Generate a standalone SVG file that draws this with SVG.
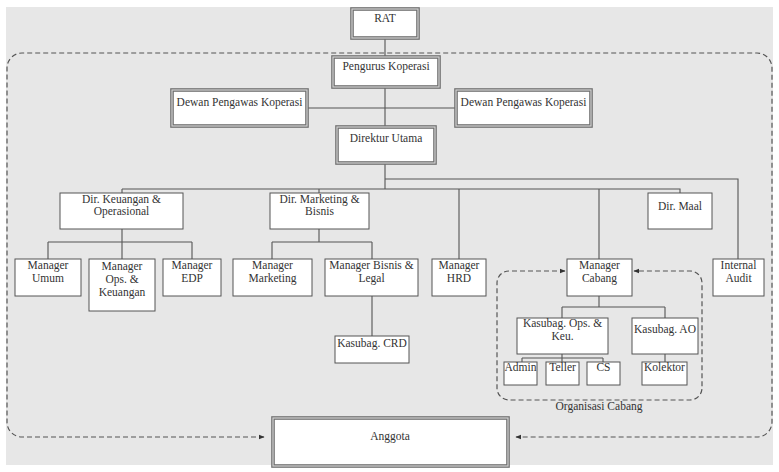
<svg xmlns="http://www.w3.org/2000/svg" width="779" height="472" viewBox="0 0 779 472">
<defs>
<style>
text{font-family:"Liberation Serif","Times New Roman",serif;font-size:11.5px;fill:#333;text-anchor:middle}
.bx{fill:#fff;stroke:#555;stroke-width:1}
.dbo{fill:#fff;stroke:#6f6f6f;stroke-width:3.6}
.dbi{fill:none;stroke:#d2d2d2;stroke-width:1.2}
.ln{fill:none;stroke:#555;stroke-width:1.1}
.ds{fill:none;stroke:#555;stroke-width:1.2;stroke-dasharray:5 3}
</style>
<marker id="ah" viewBox="0 0 10 10" refX="9" refY="5" markerWidth="6" markerHeight="6" orient="auto-start-reverse" markerUnits="userSpaceOnUse">
<path d="M0,1 L10,5 L0,9 Z" fill="#333"/>
</marker>
</defs>
<rect x="0" y="0" width="779" height="472" fill="#fff"/>
<rect x="6" y="7" width="767" height="458" fill="#e7e7e7"/>

<g id="connectors">
<path class="ds" d="M264,437 H22 A15,15 0 0 1 7,422 V68 A15,15 0 0 1 22,53 H757 A15,15 0 0 1 772,68 V422 A15,15 0 0 1 757,437 H516" marker-start="url(#ah)" marker-end="url(#ah)"/>
<path class="ds" d="M565,271 H509 A12,12 0 0 0 497,283 V388 A12,12 0 0 0 509,400 H690 A12,12 0 0 0 702,388 V283 A12,12 0 0 0 690,271 H634" marker-start="url(#ah)" marker-end="url(#ah)"/>
<path class="ln" d="M385,38 V57 M385,87 V127 M307,108 H456 M385,163 V189 M122,189 H680 V193 M122,189 V193 M319,189 V193 M459,189 V259 M599,189 V259 M385,179 H738 V259"/>
<path class="ln" d="M122,229 V242 M48,242 H192 M48,242 V259 M122,242 V259 M192,242 V259 M319,229 V242 M272,242 H372 M272,242 V259 M372,242 V259 M372,296 V336"/>
<path class="ln" d="M599,296 V307 M562,307 H665 M562,307 V318 M665,307 V318 M562,354 V358 M522,358 H603 M522,358 V362 M562,358 V362 M603,358 V362 M665,354 V362"/>
</g>

<g id="rat"><rect class="dbo" x="352" y="9" width="66" height="29"/><rect class="dbi" x="352" y="9" width="66" height="29"/><text x="385" y="22">RAT</text></g>
<g id="pengurus"><rect class="dbo" x="333" y="57" width="106" height="30"/><rect class="dbi" x="333" y="57" width="106" height="30"/><text x="386" y="70">Pengurus Koperasi</text></g>
<g id="dewan1"><rect class="dbo" x="172" y="90" width="135" height="36"/><rect class="dbi" x="172" y="90" width="135" height="36"/><text x="239.5" y="106">Dewan Pengawas Koperasi</text></g>
<g id="dewan2"><rect class="dbo" x="456" y="90" width="135" height="36"/><rect class="dbi" x="456" y="90" width="135" height="36"/><text x="523.5" y="106">Dewan Pengawas Koperasi</text></g>
<g id="direktur"><rect class="dbo" x="337" y="127" width="98" height="36"/><rect class="dbi" x="337" y="127" width="98" height="36"/><text x="386" y="142">Direktur Utama</text></g>

<g id="dirkeu"><rect class="bx" x="60" y="193" width="123" height="36"/><text x="121.5" y="203">Dir. Keuangan &amp;</text><text x="121.5" y="215">Operasional</text></g>
<g id="dirmkt"><rect class="bx" x="270" y="193" width="99" height="36"/><text x="319.5" y="203">Dir. Marketing &amp;</text><text x="319.5" y="215">Bisnis</text></g>
<g id="dirmaal"><rect class="bx" x="648" y="193" width="64" height="36"/><text x="680" y="210">Dir. Maal</text></g>

<g id="mumum"><rect class="bx" x="15" y="259" width="66" height="37"/><text x="48" y="269">Manager</text><text x="48" y="282">Umum</text></g>
<g id="mops"><rect class="bx" x="89" y="259" width="66" height="52"/><text x="122" y="270">Manager</text><text x="122" y="283">Ops. &amp;</text><text x="122" y="296">Keuangan</text></g>
<g id="medp"><rect class="bx" x="163" y="259" width="58" height="37"/><text x="192" y="269">Manager</text><text x="192" y="282">EDP</text></g>
<g id="mmkt"><rect class="bx" x="233" y="259" width="79" height="37"/><text x="272.5" y="269">Manager</text><text x="272.5" y="282">Marketing</text></g>
<g id="mbisnis"><rect class="bx" x="325" y="259" width="93" height="37"/><text x="371.5" y="269">Manager Bisnis &amp;</text><text x="371.5" y="282">Legal</text></g>
<g id="crd"><rect class="bx" x="335" y="336" width="74" height="27"/><text x="372" y="347">Kasubag. CRD</text></g>
<g id="mhrd"><rect class="bx" x="432" y="259" width="54" height="37"/><text x="459" y="269">Manager</text><text x="459" y="282">HRD</text></g>
<g id="mcabang"><rect class="bx" x="567" y="259" width="65" height="37"/><text x="599.5" y="269">Manager</text><text x="599.5" y="282">Cabang</text></g>
<g id="audit"><rect class="bx" x="713" y="259" width="51" height="37"/><text x="738.5" y="269">Internal</text><text x="738.5" y="282">Audit</text></g>
<g id="kops"><rect class="bx" x="517" y="318" width="91" height="36"/><text x="562.5" y="327">Kasubag. Ops. &amp;</text><text x="562.5" y="340">Keu.</text></g>
<g id="kao"><rect class="bx" x="632" y="318" width="66" height="36"/><text x="665" y="333">Kasubag. AO</text></g>
<g id="admin"><rect class="bx" x="504" y="362" width="33" height="23"/><text x="520.5" y="371">Admin</text></g>
<g id="teller"><rect class="bx" x="546" y="362" width="33" height="23"/><text x="562.5" y="371">Teller</text></g>
<g id="cs"><rect class="bx" x="587" y="362" width="33" height="23"/><text x="603.5" y="371">CS</text></g>
<g id="kolektor"><rect class="bx" x="642" y="362" width="45" height="23"/><text x="664.5" y="371">Kolektor</text></g>
<g id="orgcabang"><text x="599" y="410">Organisasi Cabang</text></g>
<g id="anggota"><rect class="dbo" x="273" y="418" width="235" height="48"/><rect class="dbi" x="273" y="418" width="235" height="48"/><text x="390" y="440">Anggota</text></g>
</svg>
